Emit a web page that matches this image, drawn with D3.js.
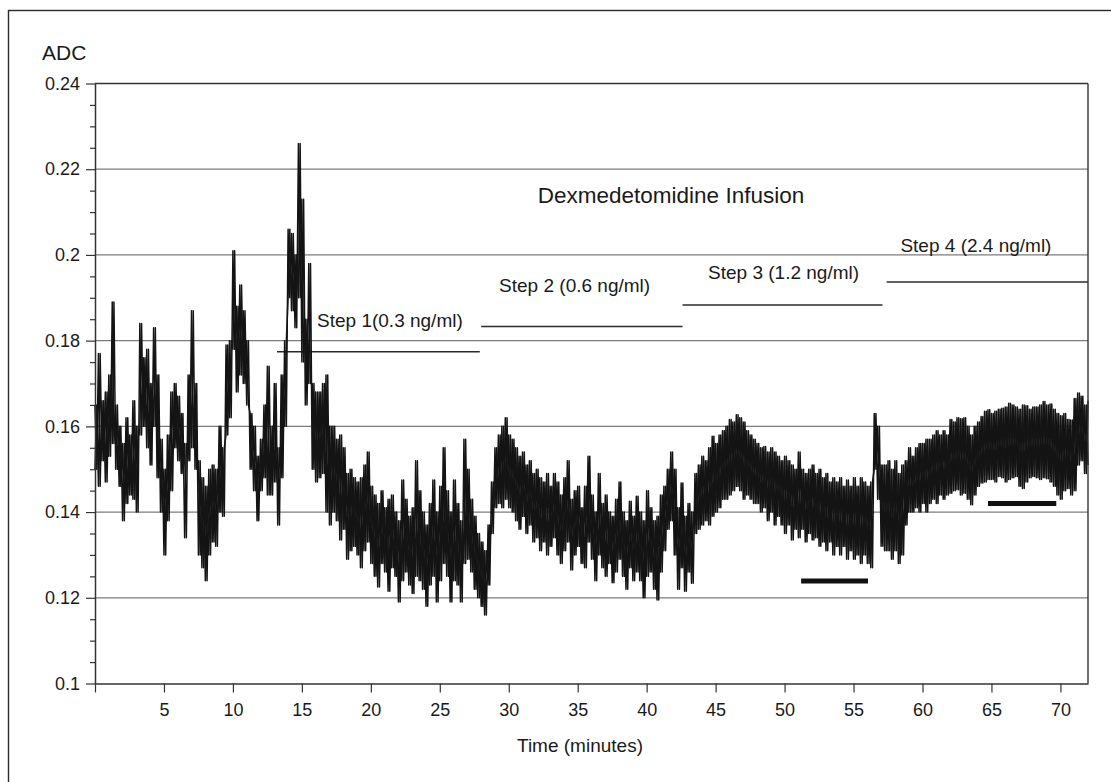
<!DOCTYPE html>
<html>
<head>
<meta charset="utf-8">
<script src="https://cdn.jsdelivr.net/npm/d3@7"></script>
<style>
  body { margin: 0; background: #fff; }
  svg { display: block; font-family: "Liberation Sans", Arial, sans-serif; }
</style>
</head>
<body>
<div id="wrapper"></div>
<script>
// ---- data ----
const yTickValues = [0.1, 0.12, 0.14, 0.16, 0.18, 0.2, 0.22, 0.24]
const yTickLabels = ["0.1", "0.12", "0.14", "0.16", "0.18", "0.2", "0.22", "0.24"]
const xTickValues = [0, 5, 10, 15, 20, 25, 30, 35, 40, 45, 50, 55, 60, 65, 70]
const xTickLabels = ["", "5", "10", "15", "20", "25", "30", "35", "40", "45", "50", "55", "60", "65", "70"]

// infusion steps: start / end minute and level drawn on the ADC scale
const stepNames = ["Step 1(0.3 ng/ml)", "Step 2 (0.6 ng/ml)", "Step 3 (1.2 ng/ml)", "Step 4 (2.4 ng/ml)"]
const stepStart = [13.2, 28.0, 42.6, 57.4]
const stepEnd = [27.9, 42.6, 57.1, 72]
const stepLevel = [0.1774, 0.1833, 0.1883, 0.1937]
const stepLabelAt = [[16.1, 0.1832], [29.3, 0.1913], [44.45, 0.1944], [58.4, 0.2007]]

// analysis windows (thick bars)
const windowStart = [51.2, 64.75]
const windowEnd = [56.05, 69.7]
const windowLevel = [0.1239, 0.1420]

// ADC trace: [minute, low, high] within each quarter minute
const trace = [
[0,.150,.165],[0.25,.146,.177],[0.5,.152,.166],[0.75,.147,.168],
[1,.153,.172],[1.25,.156,.189],[1.5,.150,.165],[1.75,.146,.160],
[2,.138,.156],[2.25,.142,.162],[2.5,.144,.158],[2.75,.143,.166],
[3,.140,.160],[3.25,.158,.184],[3.5,.160,.176],[3.75,.155,.178],
[4,.151,.170],[4.25,.160,.183],[4.5,.148,.172],[4.75,.140,.157],
[5,.130,.150],[5.25,.138,.158],[5.5,.145,.168],[5.75,.155,.170],
[6,.152,.167],[6.25,.149,.163],[6.5,.134,.156],[6.75,.152,.172],
[7,.155,.187],[7.25,.150,.170],[7.5,.130,.152],[7.75,.127,.148],
[8,.124,.146],[8.25,.130,.150],[8.5,.133,.151],[8.75,.132,.150],
[9,.140,.160],[9.25,.139,.155],[9.5,.158,.179],[9.75,.162,.180],
[10,.178,.201],[10.25,.168,.188],[10.5,.172,.193],[10.75,.170,.187],
[11,.165,.180],[11.25,.150,.163],[11.5,.145,.160],[11.75,.138,.153],
[12,.145,.157],[12.25,.148,.165],[12.5,.144,.174],[12.75,.144,.160],
[13,.147,.170],[13.25,.137,.155],[13.5,.148,.172],[13.75,.160,.180],
[14,.190,.206],[14.25,.187,.205],[14.5,.183,.200],[14.75,.190,.226],
[15,.175,.213],[15.25,.165,.185],[15.5,.170,.198],[15.75,.150,.170],
[16,.147,.168],[16.25,.148,.168],[16.5,.149,.170],[16.75,.140,.172],
[17,.137,.160],[17.25,.140,.160],[17.5,.138,.157],[17.75,.1335,.158],
[18,.136,.155],[18.25,.129,.149],[18.5,.131,.150],[18.75,.132,.148],
[19,.130,.147],[19.25,.127,.148],[19.5,.131,.151],[19.75,.133,.154],
[20,.128,.146],[20.25,.125,.144],[20.5,.1225,.142],[20.75,.128,.145],
[21,.126,.141],[21.25,.1215,.143],[21.5,.127,.144],[21.75,.125,.140],
[22,.119,.138],[22.25,.124,.1475],[22.5,.126,.143],[22.75,.123,.139],
[23,.121,.141],[23.25,.125,.152],[23.5,.124,.145],[23.75,.122,.140],
[24,.118,.137],[24.25,.123,.142],[24.5,.125,.1475],[24.75,.119,.140],
[25,.124,.146],[25.25,.128,.155],[25.5,.125,.145],[25.75,.119,.140],
[26,.124,.1475],[26.25,.123,.142],[26.5,.119,.138],[26.75,.128,.157],
[27,.129,.150],[27.25,.126,.143],[27.5,.122,.139],[27.75,.120,.135],
[28,.118,.133],[28.25,.116,.131],[28.5,.123,.137],[28.75,.135,.147],
[29,.141,.155],[29.25,.142,.158],[29.5,.141,.160],[29.75,.143,.162],
[30,.141,.158],[30.25,.140,.157],[30.5,.138,.155],[30.75,.136,.153],
[31,.139,.154],[31.25,.135,.151],[31.5,.137,.152],[31.75,.133,.149],
[32,.134,.150],[32.25,.131,.148],[32.5,.133,.147],[32.75,.130,.149],
[33,.132,.146],[33.25,.134,.149],[33.5,.130,.147],[33.75,.128,.144],
[34,.131,.148],[34.25,.133,.152],[34.5,.1265,.143],[34.75,.130,.145],
[35,.132,.146],[35.25,.128,.141],[35.5,.127,.146],[35.75,.133,.153],
[36,.129,.144],[36.25,.124,.140],[36.5,.130,.149],[36.75,.127,.142],
[37,.125,.144],[37.25,.128,.140],[37.5,.1235,.139],[37.75,.126,.143],
[38,.129,.147],[38.25,.125,.140],[38.5,.122,.138],[38.75,.127,.1425],
[39,.124,.139],[39.25,.126,.1437],[39.5,.124,.140],[39.75,.120,.138],
[40,.125,.145],[40.25,.126,.141],[40.5,.122,.138],[40.75,.1195,.139],
[41,.126,.144],[41.25,.131,.146],[41.5,.136,.150],[41.75,.138,.154],
[42,.130,.150],[42.25,.122,.141],[42.5,.127,.1468],[42.75,.1215,.139],
[43,.126,.142],[43.25,.1234,.140],[43.5,.135,.149],[43.75,.136,.151],
[44,.137,.153],[44.25,.138,.152],[44.5,.137,.155],[44.75,.139,.1577],
[45,.140,.156],[45.25,.141,.158],[45.5,.143,.159],[45.75,.143,.160],
[46,.144,.1616],[46.25,.145,.161],[46.5,.146,.1627],[46.75,.145,.162],
[47,.143,.161],[47.25,.144,.159],[47.5,.143,.158],[47.75,.142,.157],
[48,.142,.156],[48.25,.140,.155],[48.5,.141,.1553],[48.75,.138,.154],
[49,.140,.155],[49.25,.137,.154],[49.5,.139,.153],[49.75,.137,.152],
[50,.135,.153],[50.25,.137,.152],[50.5,.1335,.151],[50.75,.136,.150],
[51,.134,.154],[51.25,.136,.150],[51.5,.133,.149],[51.75,.135,.150],
[52,.1335,.151],[52.25,.134,.149],[52.5,.132,.150],[52.75,.133,.148],
[53,.131,.149],[53.25,.133,.147],[53.5,.130,.148],[53.75,.132,.147],
[54,.130,.148],[54.25,.132,.146],[54.5,.129,.1475],[54.75,.131,.146],
[55,.129,.148],[55.25,.130,.146],[55.5,.128,.148],[55.75,.130,.147],
[56,.128,.146],[56.25,.127,.147],[56.5,.150,.163],[56.75,.143,.160],
[57,.132,.151],[57.25,.131,.151],[57.5,.131,.152],[57.75,.129,.150],
[58,.131,.152],[58.25,.128,.149],[58.5,.130,.151],[58.75,.137,.152],
[59,.140,.155],[59.25,.140,.153],[59.5,.141,.155],[59.75,.140,.156],
[60,.142,.156],[60.25,.140,.157],[60.5,.142,.157],[60.75,.143,.158],
[61,.142,.159],[61.25,.144,.158],[61.5,.143,.159],[61.75,.144,.158],
[62,.1444,.1616],[62.25,.145,.161],[62.5,.1452,.162],[62.75,.144,.1618],
[63,.1444,.162],[63.25,.143,.160],[63.5,.1417,.158],[63.75,.144,.160],
[64,.146,.161],[64.25,.1468,.1623],[64.5,.147,.1635],[64.75,.1476,.1639],
[65,.1476,.163],[65.25,.147,.1635],[65.5,.1483,.164],[65.75,.148,.1642],
[66,.147,.1645],[66.25,.1476,.1654],[66.5,.148,.165],[66.75,.1483,.1645],
[67,.146,.164],[67.25,.1455,.165],[67.5,.147,.1648],[67.75,.148,.164],
[68,.1483,.1645],[68.25,.148,.1645],[68.5,.1476,.165],[68.75,.148,.1658],
[69,.1478,.165],[69.25,.147,.1652],[69.5,.146,.164],[69.75,.144,.163],
[70,.143,.1625],[70.25,.145,.163],[70.5,.1455,.1616],[70.75,.144,.1615],
[71,.145,.1665],[71.25,.151,.1678],[71.5,.152,.167],[71.75,.149,.165],
[72,.151,.166]
]

// ---- chart ----
function drawChart() {
  const width = 1111, height = 782
  const margins = {top: 83.5, left: 95, right: 23, bottom: 98.5}

  const svg = d3.select("#wrapper").append("svg")
      .attr("width", width).attr("height", height)

  const xScale = d3.scaleLinear().domain([0, 72]).range([margins.left, width - margins.right])
  const yScale = d3.scaleLinear().domain([0.1, 0.24]).range([height - margins.bottom, margins.top])

  // outer frame
  svg.append("rect").attr("x", 8.5).attr("y", 10.5).attr("width", 1110).attr("height", 780)
      .attr("fill", "none").attr("stroke", "#2a2a2a").attr("stroke-width", 1.4)

  // horizontal grid
  svg.append("g").selectAll("line").data(yTickValues.slice(1, -1)).join("line")
      .attr("x1", xScale(0)).attr("x2", xScale(72))
      .attr("y1", d => yScale(d)).attr("y2", d => yScale(d))
      .attr("stroke", "#7c7c7c").attr("stroke-width", 1.2)

  // step lines
  svg.append("g").selectAll("line").data(stepStart).join("line")
      .attr("x1", d => xScale(d)).attr("x2", (d, i) => xScale(stepEnd[i]))
      .attr("y1", (d, i) => yScale(stepLevel[i])).attr("y2", (d, i) => yScale(stepLevel[i]))
      .attr("stroke", "#2b2b2b").attr("stroke-width", 1.6)

  // trace: two interleaved swings between the high and low of each quarter minute
  const swingA = [], swingB = []
  trace.forEach(d => {
    swingA.push([d[0], d[2]], [d[0] + 0.125, d[1]])
    swingB.push([d[0], d[1]], [d[0] + 0.125, d[2]])
  })
  const line = d3.line().x(p => xScale(p[0])).y(p => yScale(p[1]))
  svg.append("g").selectAll("path").data([swingA, swingB].map(s => s.filter(p => p[0] <= 72))).join("path")
      .attr("fill", "none").attr("stroke", "#141414").attr("stroke-width", 1.5)
      .attr("stroke-linejoin", "round")
      .attr("d", line)

  // analysis windows
  svg.append("g").selectAll("line").data(windowStart).join("line")
      .attr("x1", d => xScale(d)).attr("x2", (d, i) => xScale(windowEnd[i]))
      .attr("y1", (d, i) => yScale(windowLevel[i])).attr("y2", (d, i) => yScale(windowLevel[i]))
      .attr("stroke", "#111").attr("stroke-width", 5)

  // top and right border of plot
  svg.append("line").attr("x1", xScale(0)).attr("x2", xScale(72))
      .attr("y1", yScale(0.24)).attr("y2", yScale(0.24))
      .attr("stroke", "#333").attr("stroke-width", 1.4)
  svg.append("line").attr("x1", xScale(72)).attr("x2", xScale(72))
      .attr("y1", yScale(0.24)).attr("y2", yScale(0.1))
      .attr("stroke", "#333").attr("stroke-width", 1.4)

  // axes
  svg.append("g").attr("transform", `translate(${xScale(0)},0)`)
      .call(d3.axisLeft(yScale).tickValues(yTickValues)
        .tickFormat((d, i) => yTickLabels[i]).tickSize(9).tickSizeOuter(0).tickPadding(6))
  svg.append("g").attr("transform", `translate(${xScale(0)},0)`)
      .call(d3.axisLeft(yScale).tickValues(yScale.ticks(28).filter(t => Math.round(t * 1000) % 20 !== 0))
        .tickFormat("").tickSize(5).tickSizeOuter(0))
      .call(g => g.select(".domain").remove())
  svg.append("g").attr("transform", `translate(0,${yScale(0.1)})`)
      .call(d3.axisBottom(xScale).tickValues(xTickValues)
        .tickFormat((d, i) => xTickLabels[i]).tickSize(9).tickSizeOuter(0).tickPadding(11))

  svg.selectAll(".domain").attr("stroke", "#333").attr("stroke-width", 1.5)
  svg.selectAll(".tick line").attr("stroke", "#333").attr("stroke-width", 1.2)
  svg.selectAll(".tick text").attr("font-size", 18).attr("fill", "#1a1a1a")
      .attr("font-family", "Liberation Sans, Arial, sans-serif")

  // texts
  svg.append("text").attr("x", 42).attr("y", 60).text("ADC")
      .attr("font-size", 21).attr("fill", "#1a1a1a")
  svg.append("text").attr("x", 580).attr("y", 752).attr("text-anchor", "middle")
      .text("Time (minutes)").attr("font-size", 19).attr("fill", "#1a1a1a")
  svg.append("text").attr("x", 671).attr("y", 203).attr("text-anchor", "middle")
      .text("Dexmedetomidine Infusion").attr("font-size", 22.5).attr("fill", "#1a1a1a")
  svg.append("g").selectAll("text").data(stepNames).join("text")
      .attr("x", (d, i) => xScale(stepLabelAt[i][0]))
      .attr("y", (d, i) => yScale(stepLabelAt[i][1]))
      .text(d => d).attr("font-size", 19).attr("fill", "#1a1a1a")
}

drawChart()
</script>
</body>
</html>
